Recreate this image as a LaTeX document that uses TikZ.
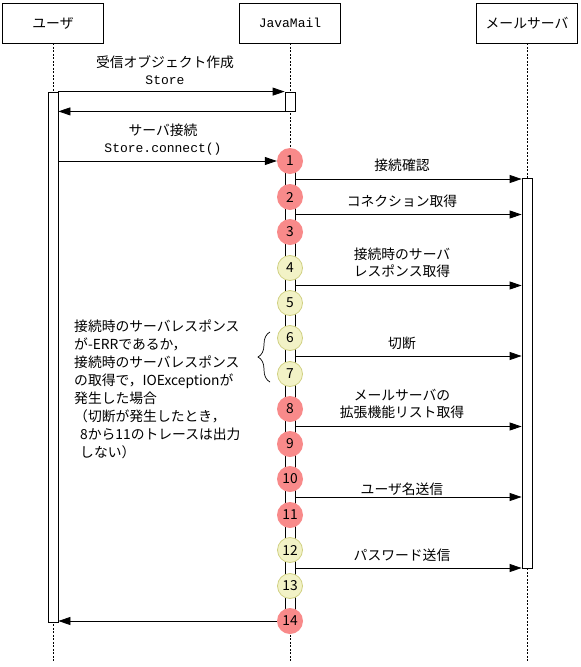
\documentclass[tikz,border=0pt]{standalone}
\usepackage{fontspec}
\setmainfont{Noto Sans CJK JP}
\newfontfamily\monofont{Liberation Mono}
\usetikzlibrary{arrows.meta,calc,decorations.pathreplacing}
\definecolor{RedDotClr}{RGB}{248,138,138}
\definecolor{YelDotClr}{RGB}{242,242,198}
\definecolor{YelRimClr}{RGB}{208,208,130}

\begin{document}
\begin{tikzpicture}[x=1pt,y=-1pt,
  font=\fontsize{13.8}{17}\selectfont,
  head/.style={draw,line width=0.8pt,minimum width=101pt,minimum height=40pt,inner sep=0pt},
  life/.style={line width=0.8pt,dash pattern=on 2pt off 1.5pt},
  actbar/.style={draw,fill=white,line width=0.8pt,minimum width=10pt,inner sep=0pt},
  msg/.style={line width=0.8pt,-{Triangle[length=12pt,width=8pt]}},
  reddot/.style={circle,fill=RedDotClr,minimum size=26pt,inner sep=0pt},
  yeldot/.style={circle,fill=YelDotClr,draw=YelRimClr,line width=0.8pt,minimum size=25pt,inner sep=0pt},
  lbl/.style={inner sep=0pt,align=center}]
\useasboundingbox (0,0) rectangle (581,667);

\node[head] (U) at (53,23) {ユーザ};
\node[head] (J) at (290,23) {\monofont\fontsize{13}{17}\selectfont JavaMail};
\node[head] (S) at (527,23) {メールサーバ};

\coordinate (Ubot) at (53,662);
\coordinate (Jbot) at (290,662);
\coordinate (Sbot) at (527,662);
\draw[life] (U.south) -- (Ubot);
\draw[life] (J.south) -- (Jbot);
\draw[life] (S.south) -- (Sbot);

\node[actbar,minimum height=530pt] (UA) at (53,357) {};
\node[actbar,minimum height=19pt] (JA) at (290,101.5) {};
\node[actbar,minimum height=461pt] (JB) at (290,391.5) {};
\node[actbar,minimum height=390pt] (SA) at (527,373) {};

\node[reddot] (C1) at (290,161) {1};
\node[reddot] (C2) at (290,197) {2};
\node[reddot] (C3) at (290,232) {3};
\node[yeldot] (C4) at (290,268) {4};
\node[yeldot] (C5) at (290,303) {5};
\node[yeldot] (C6) at (290,338) {6};
\node[yeldot] (C7) at (290,374) {7};
\node[reddot] (C8) at (290,409) {8};
\node[reddot] (C9) at (290,444) {9};
\node[reddot] (C10) at (290,479) {10};
\node[reddot] (C11) at (290,515) {11};
\node[yeldot] (C12) at (290,550) {12};
\node[yeldot] (C13) at (290,586) {13};
\node[reddot] (C14) at (290,621) {14};

\coordinate (M1) at ($(C1)!0.5!(C2)$);
\coordinate (M2) at ($(C2)!0.5!(C3)$);
\coordinate (M3) at ($(C4)!0.5!(C5)$);
\coordinate (M4) at ($(C6)!0.5!(C7)$);
\coordinate (M5) at ($(C8)!0.5!(C9)$);
\coordinate (M6) at ($(C10)!0.5!(C11)$);
\coordinate (M7) at ($(C12)!0.5!(C13)$);

\draw[msg] (UA.north east) -- (JA.north west);
\draw[msg] (JA.south west) -- (UA.east |- JA.south);
\draw[msg] (UA.east |- C1) -- (C1.west);
\draw[msg] (JB.east |- M1) -- (SA.west |- M1);
\draw[msg] (JB.east |- M2) -- (SA.west |- M2);
\draw[msg] (JB.east |- M3) -- (SA.west |- M3);
\draw[msg] (JB.east |- M4) -- (SA.west |- M4);
\draw[msg] (JB.east |- M5) -- (SA.west |- M5);
\draw[msg] (JB.east |- M6) -- (SA.west |- M6);
\draw[msg] (JB.east |- M7) -- (SA.west |- M7);
\draw[msg] (C14.west) -- (UA.east |- C14);

\node[lbl] (T1) at (165,70) {受信オブジェクト作成\\{\monofont\fontsize{13}{17}\selectfont Store}};
\node[lbl] (T2) at (163,140) {サーバ接続\\{\monofont\fontsize{13}{17}\selectfont Store.connect()}};
\node[lbl] (T3) at (402,165) {接続確認};
\node[lbl] (T4) at (402,201) {コネクション取得};
\node[lbl] (T5) at (402,263) {接続時のサーバ\\レスポンス取得};
\node[lbl] (T6) at (402,343) {切断};
\node[lbl] (T7) at (402,404) {メールサーバの\\拡張機能リスト取得};
\node[lbl] (T8) at (402,489) {ユーザ名送信};
\node[lbl] (T9) at (402,555) {パスワード送信};

\coordinate (Btop) at (270,332);
\coordinate (Bbot) at (270,382);
\draw[line width=0.7pt,decorate,decoration={brace,amplitude=12pt}] (Bbot) -- (Btop);

\node[lbl,anchor=north west,align=left,font=\fontsize{13.8}{18}\selectfont] (N) at (74,320)
  {接続時のサーバレスポンス\\
   が-ERRであるか，\\
   接続時のサーバレスポンス\\
   の取得で，IOExceptionが\\
   発生した場合\\
   （切断が発生したとき，\\
   \hspace*{6pt}8から11のトレースは出力\\
   \hspace*{6pt}しない）};
\end{tikzpicture}
\end{document}
